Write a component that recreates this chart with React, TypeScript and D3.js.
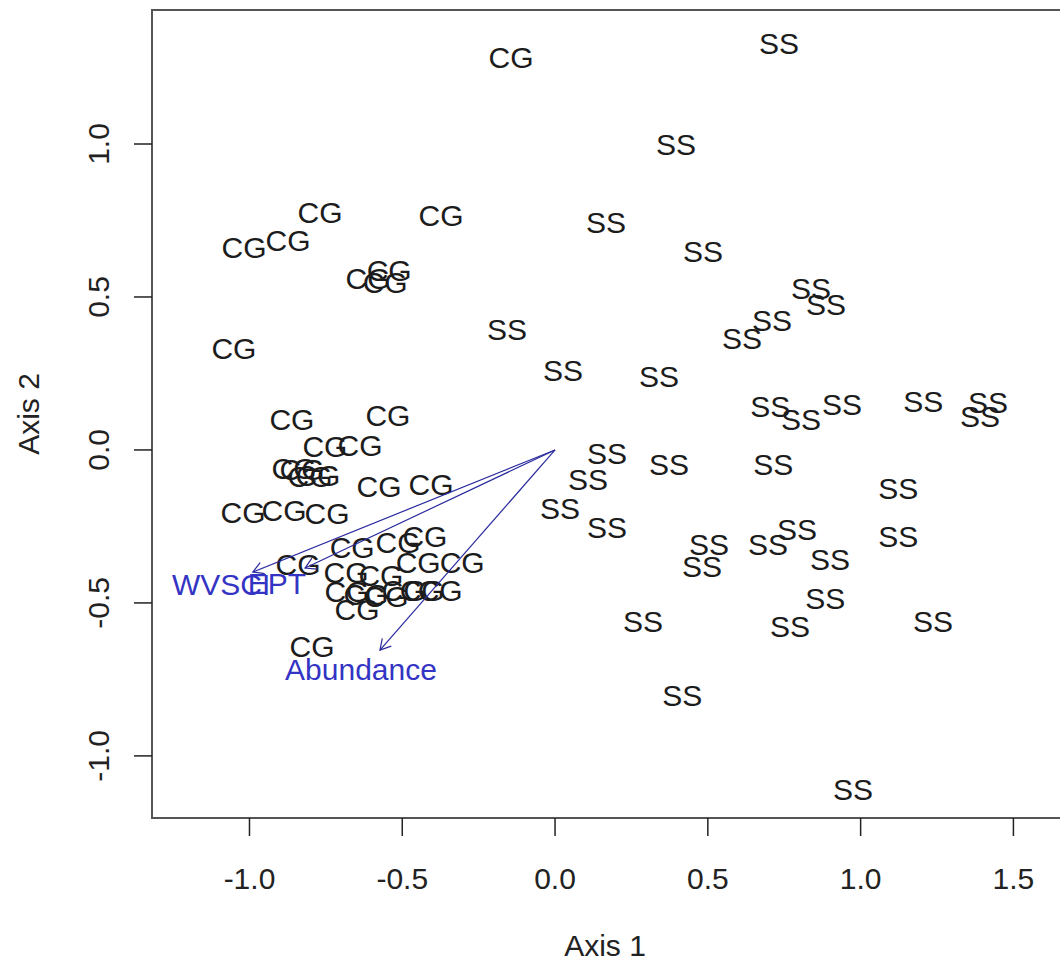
import React from "react";
import { scaleLinear } from "d3";

// site scores
const cgX = [-0.144, -0.769, -1.018, -0.874, -0.373, -0.612, -0.543, -0.556, -1.051, -0.861, -0.547, -0.753, -0.638, -0.854, -0.828, -0.802, -0.776, -0.576, -0.406, -1.021, -0.887, -0.746, -0.664, -0.514, -0.426, -0.448, -0.304, -0.841, -0.684, -0.57, -0.681, -0.619, -0.553, -0.494, -0.435, -0.376, -0.648, -0.795];
const cgY = [1.284, 0.775, 0.663, 0.683, 0.765, 0.562, 0.585, 0.546, 0.33, 0.101, 0.111, 0.01, 0.016, -0.062, -0.065, -0.088, -0.085, -0.121, -0.114, -0.206, -0.199, -0.209, -0.32, -0.301, -0.284, -0.369, -0.369, -0.376, -0.399, -0.412, -0.464, -0.471, -0.48, -0.461, -0.458, -0.458, -0.523, -0.641];

const ssX = [0.733, 0.396, 0.167, 0.484, -0.157, 0.026, 0.34, 0.838, 0.887, 0.71, 0.612, 0.704, 0.805, 0.939, 1.205, 1.417, 1.391, 0.373, 0.714, 1.123, 1.123, 0.792, 0.697, 0.504, 0.17, 0.108, 0.016, 0.17, 0.481, 0.9, 0.884, 0.769, 0.288, 0.416, 1.237, 0.975];
const ssY = [1.33, 1.0, 0.745, 0.65, 0.395, 0.261, 0.239, 0.529, 0.474, 0.422, 0.363, 0.141, 0.101, 0.147, 0.157, 0.154, 0.108, -0.046, -0.049, -0.127, -0.284, -0.261, -0.31, -0.31, -0.01, -0.098, -0.19, -0.252, -0.382, -0.359, -0.484, -0.578, -0.562, -0.804, -0.562, -1.111];

// fitted vectors
const vecNames = ["WVSCI", "EPT", "Abundance"];
const vecX = [-0.989, -0.818, -0.573];
const vecY = [-0.399, -0.386, -0.654];
const vecLabelX = [-1.093, -0.91, -0.635];
const vecLabelY = [-0.441, -0.438, -0.719];

const xTicks = [-1.0, -0.5, 0.0, 0.5, 1.0, 1.5];
const yTicks = [-1.0, -0.5, 0.0, 0.5, 1.0];
const xLim = [-1.319, 1.659];
const yLim = [-1.203, 1.438];

const W = 1060;
const H = 969;
const box = { left: 152, right: 1062, top: 10, bottom: 818 };
const font = "'Liberation Sans', Arial, sans-serif";
const fs = 30;

const fmt = (v: number) => v.toFixed(1);

export default function App() {
  const x = scaleLinear().domain(xLim).range([box.left, box.right]);
  const y = scaleLinear().domain(yLim).range([box.bottom, box.top]);

  const arrowHead = (x0: number, y0: number, x1: number, y1: number) => {
    const a = Math.atan2(y1 - y0, x1 - x0);
    const len = 12;
    const spread = Math.PI / 6;
    const p1 = [x1 - len * Math.cos(a - spread), y1 - len * Math.sin(a - spread)];
    const p2 = [x1 - len * Math.cos(a + spread), y1 - len * Math.sin(a + spread)];
    return `M${p1[0]},${p1[1]}L${x1},${y1}L${p2[0]},${p2[1]}`;
  };

  return (
    <svg
      width={W}
      height={H}
      style={{ position: "absolute", left: 0, top: 0, background: "#fff" }}
      fontFamily={font}
    >
      {/* site labels */}
      <g fontSize={fs} fill="#1c1c1c" textAnchor="middle">
        {cgX.map((v, i) => (
          <text key={"cg" + i} x={x(v)} y={y(cgY[i])} dy="0.35em">
            CG
          </text>
        ))}
        {ssX.map((v, i) => (
          <text key={"ss" + i} x={x(v)} y={y(ssY[i])} dy="0.35em">
            SS
          </text>
        ))}
      </g>

      {/* vectors */}
      <g stroke="#2a2a9e" strokeWidth={1.2} fill="none">
        {vecX.map((v, i) => (
          <g key={"v" + i}>
            <line x1={x(0)} y1={y(0)} x2={x(v)} y2={y(vecY[i])} />
            <path d={arrowHead(x(0), y(0), x(v), y(vecY[i]))} />
          </g>
        ))}
      </g>
      <g fontSize={fs} fill="#3434c4" textAnchor="middle">
        {vecNames.map((n, i) => (
          <text key={n} x={x(vecLabelX[i])} y={y(vecLabelY[i])} dy="0.35em">
            {n}
          </text>
        ))}
      </g>

      {/* frame */}
      <rect
        x={box.left}
        y={box.top}
        width={box.right - box.left}
        height={box.bottom - box.top}
        fill="none"
        stroke="#555"
        strokeWidth={2}
      />

      {/* ticks */}
      <g stroke="#222" strokeWidth={1.5}>
        {xTicks.map((t) => (
          <line key={"xt" + t} x1={x(t)} x2={x(t)} y1={box.bottom} y2={box.bottom + 18} />
        ))}
        {yTicks.map((t) => (
          <line key={"yt" + t} x1={box.left - 18} x2={box.left} y1={y(t)} y2={y(t)} />
        ))}
      </g>
      <g fontSize={fs} fill="#222" textAnchor="middle">
        {xTicks.map((t) => (
          <text key={"xl" + t} x={x(t)} y={878} dy="0.35em">
            {fmt(t)}
          </text>
        ))}
        {yTicks.map((t) => (
          <text
            key={"yl" + t}
            transform={`translate(98,${y(t)}) rotate(-90)`}
            dy="0.35em"
          >
            {fmt(t)}
          </text>
        ))}
        <text x={(box.left + 1058) / 2} y={945} dy="0.35em">
          Axis 1
        </text>
        <text
          transform={`translate(28,${(box.top + box.bottom) / 2}) rotate(-90)`}
          dy="0.35em"
        >
          Axis 2
        </text>
      </g>
    </svg>
  );
}
